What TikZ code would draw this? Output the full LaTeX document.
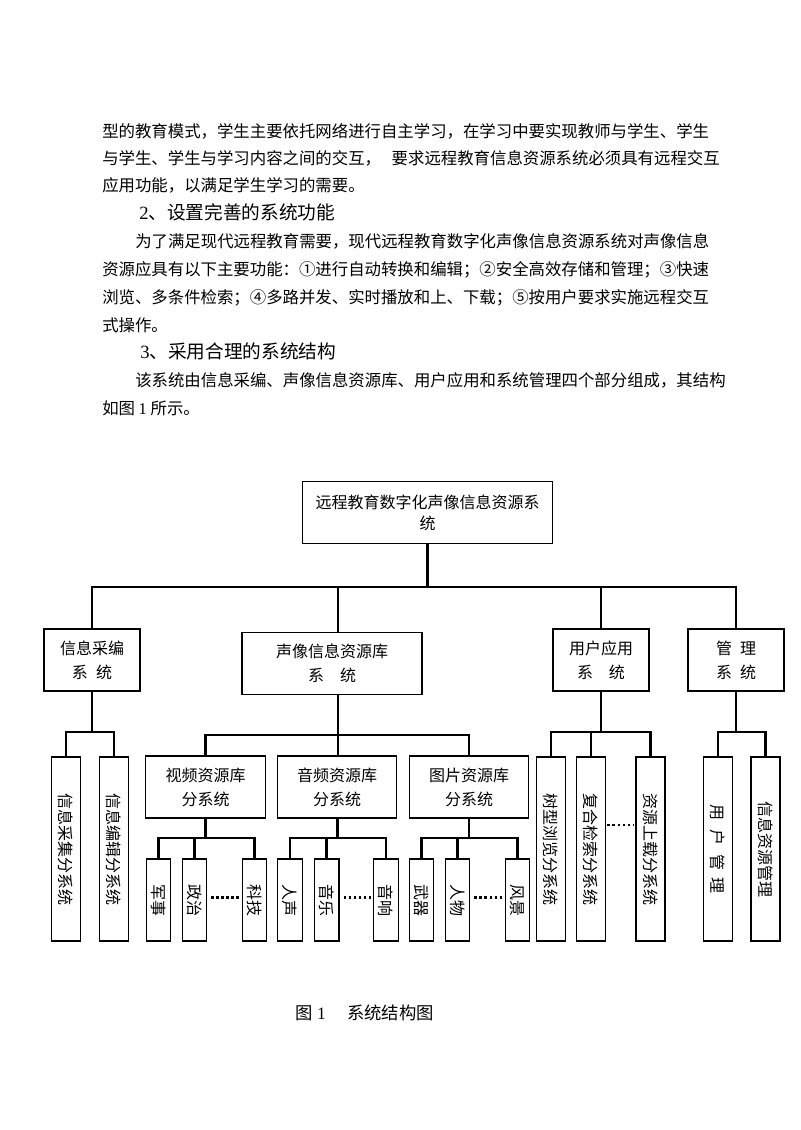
\documentclass[tikz,border=0pt]{standalone}
\usepackage{fontspec}
\usepackage{graphicx}
\newfontfamily\cjk{Noto Sans CJK SC}
\newfontfamily\lat{Liberation Serif}
\newcommand{\vertlabel}[1]{\rotatebox{-90}{#1}}
\begin{document}
\begin{tikzpicture}[x=0.75pt,y=0.75pt,yscale=-1,
  body/.style={anchor=west,inner sep=0pt,font=\cjk\fontsize{12.3}{15}\selectfont},
  headline/.style={anchor=west,inner sep=0pt,font=\cjk\fontsize{14}{17}\selectfont},
  blk/.style={draw,line width=0.8pt,align=center,inner sep=0pt,font=\cjk\fontsize{12}{18}\selectfont},
  vblk/.style={draw,line width=0.8pt,inner sep=0pt,minimum width=21.75pt,minimum height=138pt,font=\cjk\fontsize{12}{14}\selectfont},
  leaf/.style={vblk,minimum width=18.4pt,minimum height=61.5pt},
  link/.style={line width=1.9pt},
  etc/.style={line width=2pt,dash pattern=on 2pt off 1.8pt}]
\fill[white] (0,0) rectangle (800,1130);
\useasboundingbox (0,0) rectangle (800,1130);

% Text Node
\node[body] (p1a) at (102,131.7) {型的教育模式，学生主要依托网络进行自主学习，在学习中要实现教师与学生、学生};
% Text Node
\node[body] (p1b) at (102,158.3) {与学生、学生与学习内容之间的交互，\hspace{8pt}要求远程教育信息资源系统必须具有远程交互};
% Text Node
\node[body] (p1c) at (102,185.5) {应用功能，以满足学生学习的需要。};
% Text Node
\node[headline] (h2) at (139,212) {{\lat 2}、设置完善的系统功能};
% Text Node
\node[body] (p2a) at (135,241.7) {为了满足现代远程教育需要，现代远程教育数字化声像信息资源系统对声像信息};
% Text Node
\node[body] (p2b) at (102,270) {资源应具有以下主要功能：①进行自动转换和编辑；②安全高效存储和管理；③快速};
% Text Node
\node[body] (p2c) at (102,297.7) {浏览、多条件检索；④多路并发、实时播放和上、下载；⑤按用户要求实施远程交互};
% Text Node
\node[body] (p2d) at (102,325) {式操作。};
% Text Node
\node[headline] (h3) at (140,351.7) {{\lat 3}、采用合理的系统结构};
% Text Node
\node[body] (p3a) at (135,380.5) {该系统由信息采编、声像信息资源库、用户应用和系统管理四个部分组成，其结构};
% Text Node
\node[body] (p3b) at (102,408) {如图 {\lat 1} 所示。};

%Shape: Rectangle
\node[blk,minimum width=188pt,minimum height=46pt,font=\cjk\fontsize{12}{16}\selectfont] (sys) at (427.5,512.5) {远程教育数字化声像信息资源系\\统};

% level two
\node[blk,minimum width=72pt,minimum height=46.5pt] (caibian) at (92,660) {信息采编\\系\hspace{6pt}统};
\node[blk,minimum width=135pt,minimum height=46pt] (shengxiang) at (332,663.5) {声像信息资源库\\系\hspace{12pt}统};
\node[blk,minimum width=72pt,minimum height=46.5pt] (yonghu) at (601,660) {用户应用\\系\hspace{12pt}统};
\node[blk,minimum width=72pt,minimum height=46.5pt] (guanli) at (736,660) {管\hspace{6pt}理\\系\hspace{6pt}统};

% level three
\node[vblk] (caiji) at (66,849) {\vertlabel{信息采集分系统}};
\node[vblk] (bianji) at (114,849) {\vertlabel{信息编辑分系统}};
\node[blk,minimum width=89.6pt,minimum height=46.5pt] (shipin) at (205.5,787) {视频资源库\\分系统};
\node[blk,minimum width=89.6pt,minimum height=46.5pt] (yinpin) at (337,787) {音频资源库\\分系统};
\node[blk,minimum width=89.6pt,minimum height=46.5pt] (tupian) at (469,787) {图片资源库\\分系统};
\node[vblk] (liulan) at (551,849) {\vertlabel{树型浏览分系统}};
\node[vblk] (jiansuo) at (591,849) {\vertlabel{复合检索分系统}};
\node[vblk] (shangzai) at (650.5,849) {\vertlabel{资源上载分系统}};
\node[vblk] (yhgl) at (718,849) {\vertlabel{用\hspace{7pt}户\hspace{7pt}管\hspace{5pt}理}};
\node[vblk] (zygl) at (765.5,849) {\vertlabel{信息资源管理}};

% level four
\node[leaf] (junshi) at (158.3,900) {\vertlabel{军事}};
\node[leaf] (zhengzhi) at (194.3,900) {\vertlabel{政治}};
\node[leaf] (keji) at (254.5,900) {\vertlabel{科技}};
\node[leaf] (renshen) at (290,900) {\vertlabel{人声}};
\node[leaf] (yinyue) at (326.7,900) {\vertlabel{音乐}};
\node[leaf] (yinxiang) at (386,900) {\vertlabel{音响}};
\node[leaf] (wuqi) at (421.3,900) {\vertlabel{武器}};
\node[leaf] (renwu) at (457.5,900) {\vertlabel{人物}};
\node[leaf] (fengjing) at (517.3,900) {\vertlabel{风景}};

% joints
\coordinate (bus) at (428,587);
\coordinate (cbj) at (92,732);
\coordinate (sxj) at (338,735);
\coordinate (spj) at (205.5,838);
\coordinate (ypj) at (337.7,838);
\coordinate (tpj) at (469,838);
\coordinate (yhj) at (601,732);
\coordinate (glj) at (736,732);

%Straight Lines
\draw[link] (sys.south) -- (sys.south |- bus);
\draw[link] (caibian.north) |- (bus) -| (guanli.north);
\draw[link] (shengxiang.north -| sxj) -- (bus -| sxj);
\draw[link] (yonghu.north) -- (yonghu.north |- bus);
%Straight Lines
\draw[link] (caibian.south) -- (cbj);
\draw[link] (caiji.north) |- (cbj) -| (bianji.north);
\draw[link] (shengxiang.south -| sxj) -- (sxj);
\draw[link] (shipin.north) |- (sxj) -| (tupian.north);
\draw[link] (yinpin.north -| sxj) -- (sxj);
\draw[link] (yonghu.south) -- (yhj);
\draw[link] (liulan.north) |- (yhj) -| (shangzai.north);
\draw[link] (jiansuo.north) -- (jiansuo.north |- yhj);
\draw[link] (guanli.south) -- (glj);
\draw[link] (yhgl.north) |- (glj) -| (zygl.north);
%Straight Lines
\draw[link] (shipin.south) -- (spj);
\draw[link] (junshi.north) |- (spj) -| (keji.north);
\draw[link] (zhengzhi.north) -- (zhengzhi.north |- spj);
\draw[link] (yinpin.south -| ypj) -- (ypj);
\draw[link] (renshen.north) |- (ypj) -| (yinxiang.north);
\draw[link] (yinyue.north) -- (yinyue.north |- ypj);
\draw[link] (tupian.south) -- (tpj);
\draw[link] (wuqi.north) |- (tpj) -| (fengjing.north);
\draw[link] (renwu.north) -- (renwu.north |- tpj);

% dotted gaps
\draw[etc] ([xshift=3pt,yshift=-2pt]zhengzhi.east) -- ([xshift=-2pt,yshift=-2pt]keji.west);
\draw[etc] ([xshift=3pt,yshift=-2pt]yinyue.east) -- ([xshift=-2pt,yshift=-2pt]yinxiang.west);
\draw[etc] ([xshift=3pt,yshift=-2pt]renwu.east) -- ([xshift=-2pt,yshift=-2pt]fengjing.west);
\draw[etc] ([xshift=1pt,yshift=-18pt]jiansuo.east) -- ([xshift=-2pt,yshift=-18pt]shangzai.west);

% Text Node
\node[anchor=west,inner sep=0pt,font=\cjk\fontsize{13}{15}\selectfont] (caption) at (295,1013) {图\hspace{3.3pt}{\lat 1}\hspace{16pt}系统结构图};

\end{tikzpicture}
\end{document}
